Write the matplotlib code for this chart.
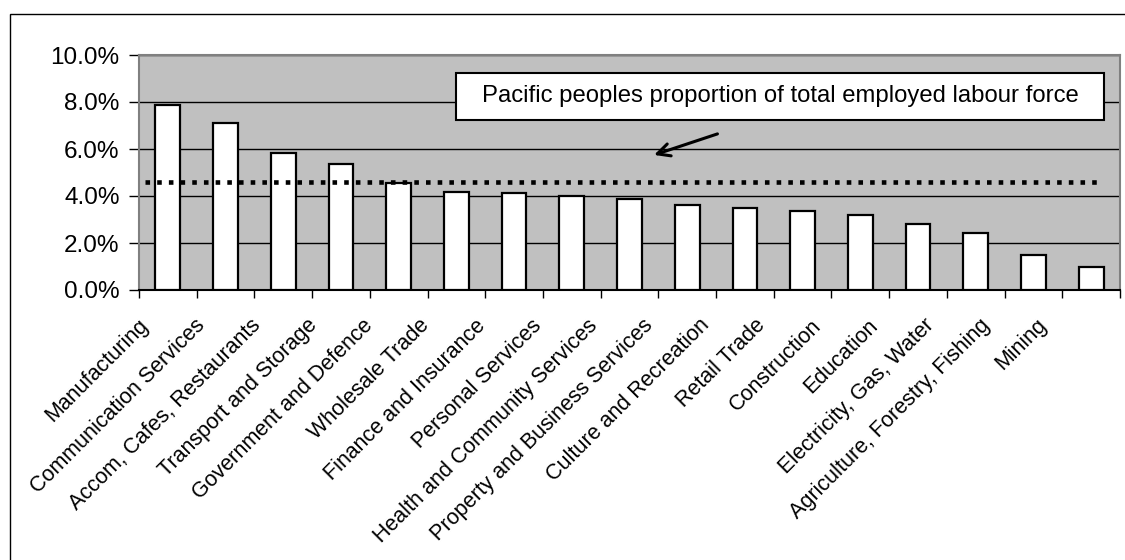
import matplotlib
matplotlib.use("Agg")
import matplotlib.pyplot as plt
import matplotlib.ticker as mtick
from matplotlib.patches import Rectangle
from matplotlib.transforms import ScaledTranslation

plt.rcParams['font.family'] = ['Liberation Sans', 'DejaVu Sans']

industries = ["Manufacturing", "Communication Services", "Accom, Cafes, Restaurants",
              "Transport and Storage", "Government and Defence", "Wholesale Trade",
              "Finance and Insurance", "Personal Services", "Health and Community Services",
              "Property and Business Services", "Culture and Recreation", "Retail Trade",
              "Construction", "Education", "Electricity, Gas, Water",
              "Agriculture, Forestry, Fishing", "Mining"]
share = [0.0787, 0.0709, 0.0582, 0.0535, 0.0457, 0.0416, 0.0413, 0.0401, 0.0387,
         0.0363, 0.0348, 0.0336, 0.0319, 0.0279, 0.0241, 0.0147, 0.0097]
overall = 0.0461
note = "Pacific peoples proportion of total employed labour force"

fig = plt.figure(figsize=(11.25, 5.6), dpi=100)
ax = fig.add_axes([139/1125, 1 - 290/560, 981/1125, 235/560])
ax.set_facecolor('#C0C0C0')

x = list(range(len(industries)))
ax.bar(x, share, width=0.43, color='white', edgecolor='black', linewidth=1.6, zorder=3)
ax.axhline(overall, xmin=0.006, xmax=0.978, color='black', lw=3.3,
           linestyle=(0, (1, 1.55)), dash_capstyle='butt', zorder=4)

ax.set_xlim(-0.5, len(industries) - 0.5)
ax.set_ylim(0, 0.10)
ax.set_yticks([0, 0.02, 0.04, 0.06, 0.08, 0.10])
ax.yaxis.set_major_formatter(mtick.PercentFormatter(1.0, decimals=1))
ax.grid(axis='y', color='black', lw=1, zorder=1)
ax.set_axisbelow(True)

ax.set_xticks([i - 0.5 for i in x] + [len(x) - 0.5])
ax.set_xticklabels([])
ax.set_xticks(x, minor=True)
ax.set_xticklabels(industries, minor=True, rotation=45, ha='right',
                   rotation_mode='anchor', fontsize=15.5)
ax.tick_params(axis='x', which='minor', length=0, pad=18)
ax.tick_params(axis='x', which='major', length=6, width=1, direction='out')
ax.tick_params(axis='y', length=7, width=1, labelsize=17.5, pad=7)

# Excel squeezes the rotated labels a little to the left
for i, lbl in enumerate(ax.get_xticklabels(minor=True)):
    lbl.set_transform(lbl.get_transform() + ScaledTranslation(-(30 + 1.6 * i) / 100, 0, fig.dpi_scale_trans))

for side in ['top', 'right', 'left']:
    ax.spines[side].set_color('#808080')
    ax.spines[side].set_linewidth(1.5)
ax.spines['bottom'].set_color('black')
ax.spines['bottom'].set_linewidth(1.5)

ax.add_patch(Rectangle((0.3228, 0.7234), 0.6609, 0.2013, transform=ax.transAxes,
                       fc='white', ec='black', lw=1.5, zorder=5))
ax.text(0.6533, 0.8238, note, transform=ax.transAxes, ha='center', va='center',
        fontsize=17.2, zorder=6)
ax.annotate('', xy=(8.38, 0.0571), xytext=(9.57, 0.0668), zorder=6,
            arrowprops=dict(arrowstyle='->,head_length=0.9,head_width=0.45', lw=2.2, color='black'))

fig.patches.append(Rectangle((10/1125, -0.1), 2, 1.1 - 13.5/560, transform=fig.transFigure,
                             fill=False, ec='black', lw=1))

fig.savefig('out.png', dpi=100)
